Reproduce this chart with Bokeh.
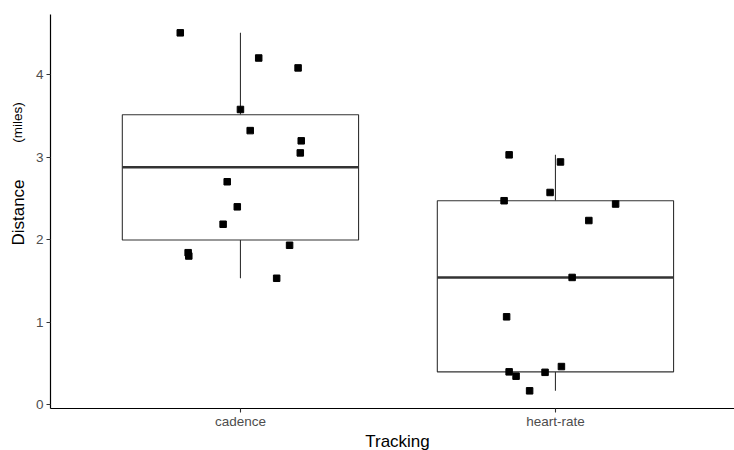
import numpy as np
from math import pi
from bokeh.plotting import figure
from bokeh.models import Range1d, FixedTicker, Label, ColumnDataSource
from bokeh.embed import file_html
from bokeh.resources import INLINE

# ---- data ----
categories = ["cadence", "heart-rate"]
cadence = [4.505, 4.20, 4.08, 3.576, 3.32, 3.196, 3.05, 2.70, 2.396, 2.185, 1.93, 1.84, 1.80, 1.53]
cadence_jitter = [-0.191, 0.058, 0.183, 0.0, 0.031, 0.193, 0.190, -0.042, -0.010, -0.055, 0.156, -0.166, -0.164, 0.115]
heart_rate = [3.026, 2.94, 2.57, 2.47, 2.43, 2.23, 1.54, 1.063, 0.46, 0.396, 0.39, 0.343, 0.166]
heart_rate_jitter = [-0.147, 0.016, -0.017, -0.163, 0.191, 0.106, 0.053, -0.155, 0.019, -0.147, -0.033, -0.125, -0.082]
y_ticks = [0, 1, 2, 3, 4]

series = [cadence, heart_rate]
jitters = [cadence_jitter, heart_rate_jitter]
positions = [1, 2]

FONT = "Liberation Sans"
W, H = 734, 450

# panel geometry (data limits of the plotting panel)
X_LO, X_HI = 0.397, 2.5685
Y_LO, Y_HI = -0.045, 4.725
X_PPU, Y_PPU = 315.0, 82.5   # pixels per unit
PANEL_LEFT_PX, ZERO_Y_PX = 50, 404

x_start = X_LO - PANEL_LEFT_PX / X_PPU
x_end = x_start + W / X_PPU
y_end = ZERO_Y_PX / Y_PPU
y_start = y_end - H / Y_PPU

p = figure(width=W, height=H, output_backend="svg", toolbar_location=None,
           x_range=Range1d(x_start, x_end), y_range=Range1d(y_start, y_end),
           min_border=0, min_border_left=0, min_border_right=0,
           min_border_top=0, min_border_bottom=0)
p.outline_line_color = None
p.xgrid.grid_line_color = None
p.ygrid.grid_line_color = None
p.background_fill_color = "white"
p.border_fill_color = "white"

# boxplot stats
box = dict(x=[], q1=[], q2=[], q3=[], lo=[], hi=[], left=[], right=[])
for pos, vals in zip(positions, series):
    v = np.array(vals)
    q1, q2, q3 = np.percentile(v, [25, 50, 75])
    iqr = q3 - q1
    lo = v[v >= q1 - 1.5 * iqr].min()
    hi = v[v <= q3 + 1.5 * iqr].max()
    box["x"].append(pos)
    box["q1"].append(q1); box["q2"].append(q2); box["q3"].append(q3)
    box["lo"].append(lo); box["hi"].append(hi)
    box["left"].append(pos - 0.375); box["right"].append(pos + 0.375)
src = ColumnDataSource(box)

BOXC = "#333333"
p.segment(x0="x", y0="q3", x1="x", y1="hi", source=src, line_color=BOXC, line_width=1.1)
p.segment(x0="x", y0="q1", x1="x", y1="lo", source=src, line_color=BOXC, line_width=1.1)
p.quad(left="left", right="right", top="q3", bottom="q1", source=src,
       fill_color="white", line_color=BOXC, line_width=1.1)
p.segment(x0="left", y0="q2", x1="right", y1="q2", source=src, line_color=BOXC, line_width=2.6)

# jittered points
px, py = [], []
for pos, vals, jit in zip(positions, series, jitters):
    px += [pos + j for j in jit]
    py += list(vals)
p.scatter(px, py, marker="square", size=6.5, fill_color="black", line_color="black")

# axes placed at the panel edges
xa, ya = p.xaxis[0], p.yaxis[0]
xa.fixed_location = Y_LO
ya.fixed_location = X_LO
xa.bounds = (X_LO, X_HI)
ya.bounds = (Y_LO, Y_HI)
for ax in (xa, ya):
    ax.axis_line_color = "black"
    ax.axis_line_width = 1.2
    ax.major_tick_line_color = BOXC
    ax.major_tick_line_width = 1.1
    ax.major_tick_in = 0
    ax.major_tick_out = 4
    ax.minor_tick_line_color = None
    ax.major_label_text_color = "#4d4d4d"
    ax.major_label_text_font = FONT
    ax.major_label_text_font_size = "13.5px"
    ax.major_label_standoff = 3
xa.major_label_standoff = 2

xa.ticker = FixedTicker(ticks=positions)
xa.major_label_overrides = {pos: c for pos, c in zip(positions, categories)}
ya.ticker = FixedTicker(ticks=y_ticks)

# axis titles
def data_x(px_):
    return x_start + px_ / X_PPU

def data_y(py_):
    return y_end - py_ / Y_PPU

p.add_layout(Label(x=data_x(18), y=data_y(212), text="Distance", angle=pi / 2,
                   text_align="center", text_baseline="alphabetic",
                   text_font=FONT, text_font_size="17px", text_color="black"))
p.add_layout(Label(x=data_x(17), y=data_y(122), text="(miles)", angle=pi / 2,
                   text_align="center", text_baseline="alphabetic",
                   text_font=FONT, text_font_size="13.5px", text_color="black"))
p.add_layout(Label(x=data_x(397), y=data_y(441), text="Tracking",
                   text_align="center", text_baseline="alphabetic",
                   text_font=FONT, text_font_size="17px", text_color="black"))

open("out.html", "w").write(file_html(p, INLINE))
